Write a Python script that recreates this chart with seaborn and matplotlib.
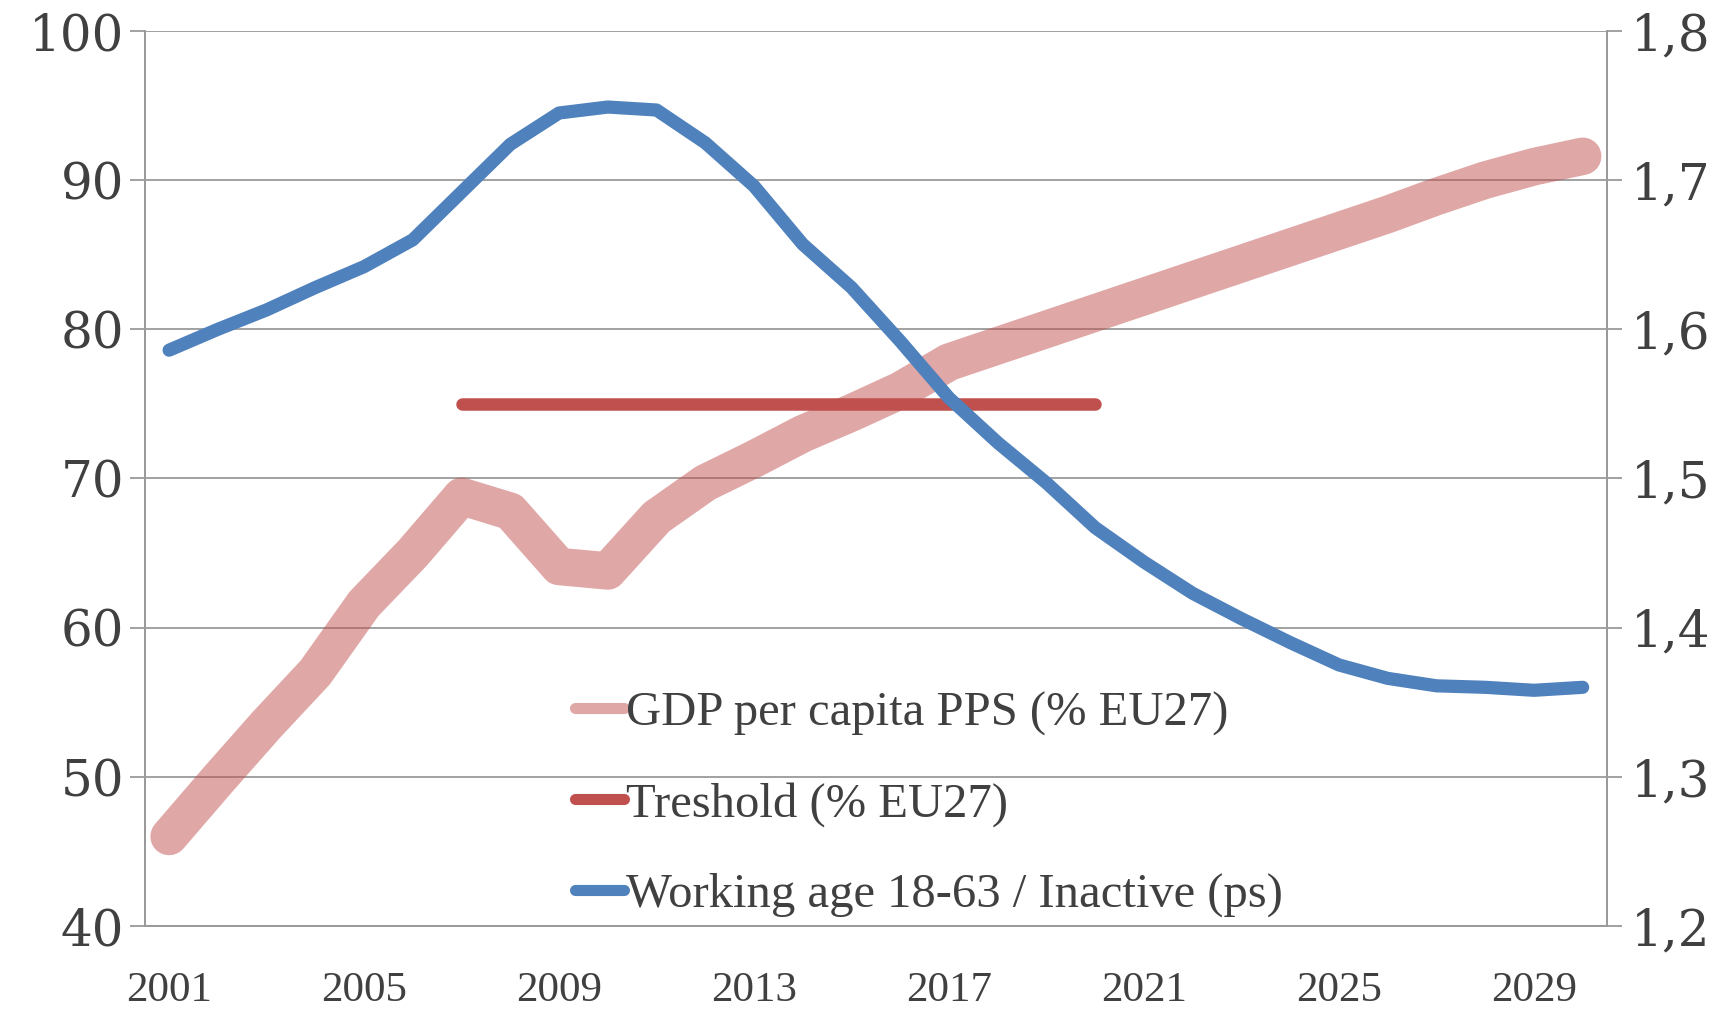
import pandas as pd
import seaborn as sns
import matplotlib.pyplot as plt
from matplotlib.lines import Line2D

# data
years = list(range(2001, 2031))
gdp_pps = [46.0, 49.8, 53.5, 57.0, 61.6, 65.0, 68.8, 67.8, 64.1, 63.8,
           67.4, 69.7, 71.3, 73.0, 74.4, 75.9, 77.8, 78.9, 80.0, 81.1,
           82.2, 83.3, 84.4, 85.5, 86.6, 87.7, 88.9, 90.0, 90.9, 91.6]
threshold_years = list(range(2007, 2021))
threshold = [75] * len(threshold_years)
working_ratio = [1.586, 1.600, 1.613, 1.628, 1.642, 1.660, 1.692, 1.724, 1.745, 1.749,
                 1.747, 1.725, 1.696, 1.657, 1.628, 1.592, 1.554, 1.524, 1.497, 1.467,
                 1.444, 1.423, 1.406, 1.390, 1.375, 1.366, 1.361, 1.360, 1.358, 1.360]

left_ticks = [40, 50, 60, 70, 80, 90, 100]
right_ticks = [1.2, 1.3, 1.4, 1.5, 1.6, 1.7, 1.8]
right_labels = ['1,2', '1,3', '1,4', '1,5', '1,6', '1,7', '1,8']
year_ticks = list(range(2001, 2031, 4))

labels = ['GDP per capita PPS (% EU27)', 'Treshold (% EU27)', 'Working age 18-63 / Inactive (ps)']
c_gdp = '#C0504D'
c_thr = '#C0504D'
c_work = '#4F81BD'
grey = '#9A9A9A'
txt = '#404040'

sns.set_style('white')
plt.rcParams['font.family'] = ['Liberation Serif', 'DejaVu Serif']

df_gdp = pd.DataFrame({'year': years, 'value': gdp_pps})
df_thr = pd.DataFrame({'year': threshold_years, 'value': threshold})
df_work = pd.DataFrame({'year': years, 'value': working_ratio})

fig = plt.figure(figsize=(17.23, 10.15), dpi=100)
ax = fig.add_axes([0.084, 0.0877, 0.8487, 0.8818])

# horizontal grid
for v in left_ticks:
    ax.axhline(v, color=grey, lw=1.3, zorder=0)

sns.lineplot(data=df_gdp, x='year', y='value', ax=ax, color=c_gdp, alpha=0.5,
             lw=27, solid_capstyle='round', solid_joinstyle='round', zorder=2)
sns.lineplot(data=df_thr, x='year', y='value', ax=ax, color=c_thr,
             lw=9, solid_capstyle='round', zorder=3)

ax.set_xlim(2000.5, 2030.5)
ax.set_ylim(40, 100)
ax.set_xlabel('')
ax.set_ylabel('')
ax.set_xticks(year_ticks, [str(y) for y in year_ticks], fontsize=31, color=txt)
ax.set_xticks([y + 0.5 for y in range(2000, 2031)], minor=True)
ax.tick_params(axis='x', which='major', length=0, pad=33)
ax.tick_params(axis='x', which='minor', length=11, width=1.3, color=grey, direction='out')
ax.set_yticks(left_ticks, [str(v) for v in left_ticks], fontfamily='DejaVu Serif',
              fontsize=36, color=txt)
ax.tick_params(axis='y', length=11, width=1.3, color=grey, pad=4)

ax2 = ax.twinx()
sns.lineplot(data=df_work, x='year', y='value', ax=ax2, color=c_work,
             lw=9.5, solid_capstyle='round', solid_joinstyle='round', zorder=4)
ax2.set_ylim(1.2, 1.8)
ax2.set_yticks(right_ticks, right_labels, fontfamily='DejaVu Serif', fontsize=36, color=txt)
ax2.tick_params(axis='y', length=11, width=1.3, color=grey, pad=6)
ax2.set_ylabel('')

for a in (ax, ax2):
    a.spines['top'].set_visible(False)
    for s in ['left', 'right', 'bottom']:
        a.spines[s].set_color(grey)
        a.spines[s].set_linewidth(1.3)

handles = [Line2D([0], [0], color=c_gdp, alpha=0.5, lw=8, solid_capstyle='round'),
           Line2D([0], [0], color=c_thr, lw=8, solid_capstyle='round'),
           Line2D([0], [0], color=c_work, lw=8, solid_capstyle='round')]
leg = ax2.legend(handles, labels, loc='lower left', bbox_to_anchor=(0.281, -0.012),
                 frameon=False, fontsize=35, handlelength=1.0, handletextpad=0.05,
                 labelspacing=0.95, borderaxespad=0)
for t in leg.get_texts():
    t.set_color(txt)

fig.savefig('out.png', dpi=100)
